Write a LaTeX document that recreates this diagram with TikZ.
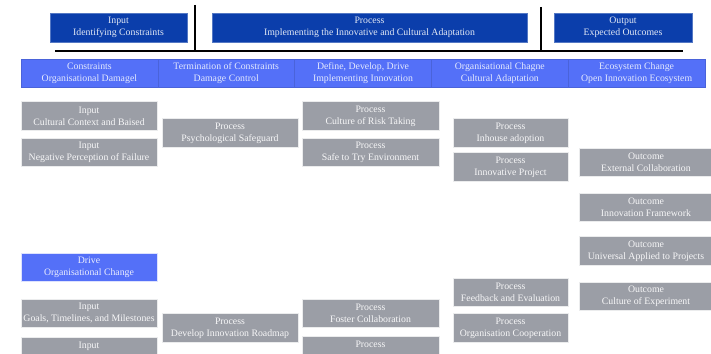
\documentclass[tikz,border=0pt]{standalone}
\usepackage{fontspec}
\setmainfont{Liberation Serif}
\usepackage{xcolor}
\usepackage{tikz}
\definecolor{darkbar}{HTML}{0B3EAB}
\definecolor{lightbar}{HTML}{5470F8}
\definecolor{greybox}{HTML}{9B9EA6}

\begin{document}
\begin{tikzpicture}[x=1pt, y=-1pt, line cap=round,
  every node/.style={font=\fontsize{9.8}{12}\selectfont, align=center, inner sep=0pt},
  topbar/.style={fill=darkbar, draw=darkbar!70!white, line width=0.6pt, text=white!88!darkbar, minimum height=29pt},
  headcell/.style={fill=lightbar, draw=lightbar!88!black, line width=0.3pt, text=white!85!lightbar, minimum width=136.8pt, minimum height=28pt},
  greycell/.style={fill=greybox, draw=white!80!greybox, line width=0.8pt, text=white!92!greybox, minimum width=136pt, minimum height=28.5pt},
  drivecell/.style={greycell, fill=lightbar, draw=white!80!lightbar, text=white!88!lightbar}]
\useasboundingbox (0,0) rectangle (711,353);
\clip (0,0) rectangle (711,353);
\def\ca{89}
\def\cb{230}
\def\cc{370.5}
\def\cd{510.5}
\def\ce{646}
\node[topbar, minimum width=137pt] (input) at (118.5,27.5) {Input\\Identifying Constraints};
\node[topbar, minimum width=315pt] (process) at (369.5,27.5) {Process\\Implementing the Innovative and Cultural Adaptation};
\node[topbar, minimum width=138pt] (output) at (623,27.5) {Output\\Expected Outcomes};
\coordinate (rulel) at (55,51);
\coordinate (ruler) at (683,51);
\coordinate (tick1) at (195,5);
\coordinate (tick2) at (541,7);
\draw[line width=1.6pt, line cap=butt] (rulel) -- (ruler);
\draw[line width=1.6pt, line cap=butt] (tick1) -- (tick1 |- rulel);
\draw[line width=1.6pt, line cap=butt] (tick2) -- (tick2 |- rulel);
\node[headcell] (hconstr) at (89.4,73) {Constraints\\Organisational Damagel};
\node[headcell] (hterm) at (226.2,73) {Termination of Constraints\\Damage Control};
\node[headcell] (hdefine) at (363,73) {Define, Develop, Drive\\Implementing Innovation};
\node[headcell] (horg) at (499.8,73) {Organisational Chagne\\Cultural Adaptation};
\node[headcell] (heco) at (636.6,73) {Ecosystem Change\\Open Innovation Ecosystem};
\node[greycell] (incult) at (\ca,116) {Input\\Cultural Context and Baised};
\node[greycell] (inneg) at (\ca,152.5) {Input\\Negative Perception of Failure};
\node[drivecell] (drive) at (\ca,267.5) {Drive\\Organisational Change};
\node[greycell] (ingoals) at (\ca,313.5) {Input\\Goals, Timelines, and Milestones};
\node[greycell] (inlast) at (\ca,351.5) {Input\\~};
\node[greycell] (prpsych) at (\cb,133) {Process\\Psychological Safeguard};
\node[greycell] (prroad) at (\cb,328) {Process\\Develop Innovation Roadmap};
\node[greycell, minimum width=137pt] (prrisk) at (\cc,116) {Process\\Culture of Risk Taking};
\node[greycell, minimum width=137pt] (prsafe) at (\cc,152.5) {Process\\Safe to Try Environment};
\node[greycell, minimum width=137pt] (prfoster) at (\cc,313.5) {Process\\Foster Collaboration};
\node[greycell, minimum width=137pt] (prlast) at (\cc,350.5) {Process\\~};
\node[greycell, minimum width=115pt] (prinhouse) at (\cd,133) {Process\\Inhouse adoption};
\node[greycell, minimum width=115pt] (prproject) at (\cd,167) {Process\\Innovative Project};
\node[greycell, minimum width=115pt] (prfeed) at (\cd,292.5) {Process\\Feedback and Evaluation};
\node[greycell, minimum width=115pt] (prcoop) at (\cd,328) {Process\\Organisation Cooperation};
\node[greycell, minimum width=134pt] (ouext) at (\ce,162.5) {Outcome\\External Collaboration};
\node[greycell, minimum width=134pt] (ouframe) at (\ce,207.5) {Outcome\\Innovation Framework};
\node[greycell, minimum width=134pt] (ouuniv) at (\ce,251) {Outcome\\Universal Applied to Projects};
\node[greycell, minimum width=134pt] (ouexp) at (\ce,296.5) {Outcome\\Culture of Experiment};
\end{tikzpicture}
\end{document}
